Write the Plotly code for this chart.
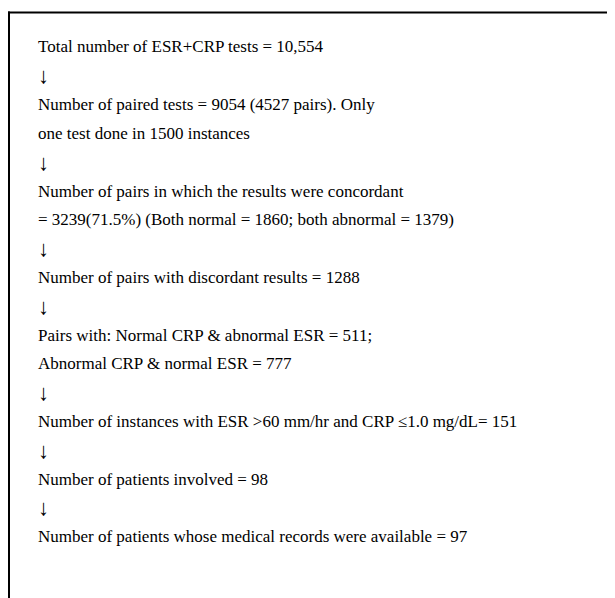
import plotly.graph_objects as go

W, H = 615, 598

# Flowchart content (text lines, top to bottom)
steps = [
    "Total number of ESR+CRP tests = 10,554",
    "Number of paired tests = 9054 (4527 pairs). Only<br>one test done in 1500 instances",
    "Number of pairs in which the results were concordant<br>= 3239(71.5%) (Both normal = 1860; both abnormal = 1379)",
    "Number of pairs with discordant results = 1288",
    "Pairs with: Normal CRP &amp; abnormal ESR = 511;<br>Abnormal CRP &amp; normal ESR = 777",
    "Number of instances with ESR >60 mm/hr and CRP \u22641.0 mg/dL= 151",
    "Number of patients involved = 98",
    "Number of patients whose medical records were available = 97",
]
arrow = "\u2193"

lines = []
for i, s in enumerate(steps):
    lines.extend(s.split("<br>"))
    if i < len(steps) - 1:
        lines.append(arrow)

x0_px = 28
y0_px = 39
dy_px = 28.8

fig = go.Figure()
annotations = []
for i, t in enumerate(lines):
    ypx = y0_px + i * dy_px
    is_arrow = t == arrow
    annotations.append(dict(
        x=x0_px / W, y=1 - ypx / H, xref="paper", yref="paper",
        xanchor="left", yanchor="middle", showarrow=False, text=t,
        font=dict(family="Liberation Serif, Times New Roman, serif",
                  size=22 if is_arrow else 17, color="black"),
    ))

shapes = [
    dict(type="line", xref="paper", yref="paper", x0=0, x1=1.0, y0=1 - 4.5 / H, y1=1 - 4.5 / H,
         line=dict(color="black", width=2)),
    dict(type="line", xref="paper", yref="paper", x0=1 / W, x1=1 / W, y0=1 - 3.5 / H, y1=0,
         line=dict(color="black", width=2)),
]

fig.update_layout(
    width=W, height=H, margin=dict(l=0, r=0, t=0, b=0),
    paper_bgcolor="white", plot_bgcolor="white",
    xaxis=dict(visible=False, range=[0, 1]), yaxis=dict(visible=False, range=[0, 1]),
    annotations=annotations, shapes=shapes, showlegend=False,
)
fig.write_html("out.html")
